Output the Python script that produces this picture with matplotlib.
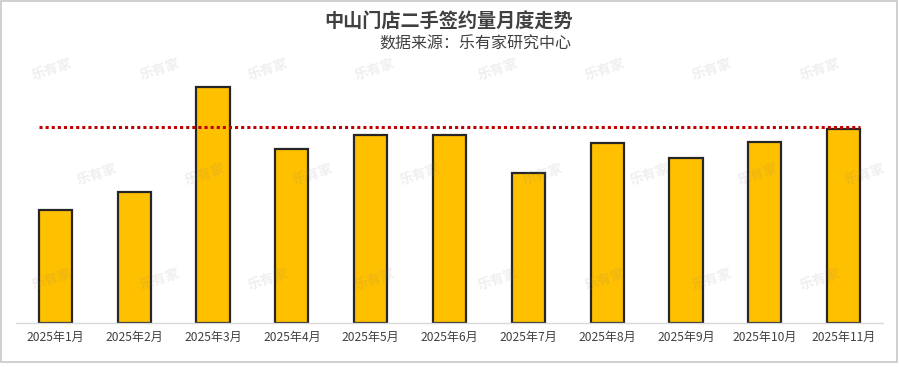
import matplotlib
matplotlib.use("Agg")
import matplotlib.pyplot as plt
from matplotlib.patches import Rectangle

plt.rcParams['font.family'] = ['Noto Sans CJK SC', 'DejaVu Sans']

months = ["2025年1月", "2025年2月", "2025年3月", "2025年4月", "2025年5月", "2025年6月",
          "2025年7月", "2025年8月", "2025年9月", "2025年10月", "2025年11月"]
values = [113.5, 131.5, 236, 174, 188, 188, 150.5, 180.5, 165.5, 181.5, 194.5]
ref_value = 196
title = "中山门店二手签约量月度走势"
subtitle = "数据来源：乐有家研究中心"
watermark = "乐有家"

W, H = 899, 367
fig = plt.figure(figsize=(W / 100, H / 100), dpi=100)
fig.patch.set_facecolor('white')

ax_l, ax_r, ax_b, ax_t = 16, 883, 323, 60
ax = fig.add_axes([ax_l / W, 1 - ax_b / H, (ax_r - ax_l) / W, (ax_b - ax_t) / H])
x = list(range(len(months)))
bw = 0.42
ax.bar(x, values, width=bw, color='#FFC000', edgecolor='#262626', linewidth=1.6, zorder=2)
ax.hlines(ref_value, -bw / 2, len(months) - 1 + bw / 2, colors='#C00000',
          linestyles=(0, (1, 1)), linewidth=2.2, zorder=3)
ax.set_xlim(-0.5, len(months) - 0.5)
ax.set_ylim(0, ax_b - ax_t)
ax.set_xticks(x)
ax.set_xticklabels(months, fontsize=8.7, color='#404040')
ax.tick_params(axis='x', length=0, pad=6)
ax.set_yticks([])
for s in ['top', 'right', 'left']:
    ax.spines[s].set_visible(False)
ax.spines['bottom'].set_color('#D9D9D9')
ax.spines['bottom'].set_linewidth(1.0)
ax.set_facecolor('none')

fig.text(449 / W, 1 - 22 / H, title, ha='center', va='center', fontsize=13.8,
         fontweight='bold', color='#404040')
fig.text(571 / W, 1 - 44 / H, subtitle, ha='right', va='center', fontsize=11.5,
         color='#404040')

# watermarks
rows = [(70, [52, 160, 268, 375, 498, 605, 712, 820]),
        (175, [97, 205, 313, 420, 543, 650, 758, 865]),
        (280, [52, 160, 268, 375, 498, 605, 712, 820])]
for yy, xs in rows:
    for xx in xs:
        fig.text(xx / W, 1 - yy / H, watermark, ha='center', va='center', fontsize=10,
                 fontweight='bold', color='#808080', alpha=0.13, rotation=18, zorder=10)

fig.patches.append(Rectangle((0.5 / W, 1 - 362 / H), 896.5 / W, 361 / H,
                             transform=fig.transFigure, fill=False,
                             edgecolor='#C8C8C8', linewidth=1.2))

fig.savefig('out.png', dpi=100, facecolor='white')
